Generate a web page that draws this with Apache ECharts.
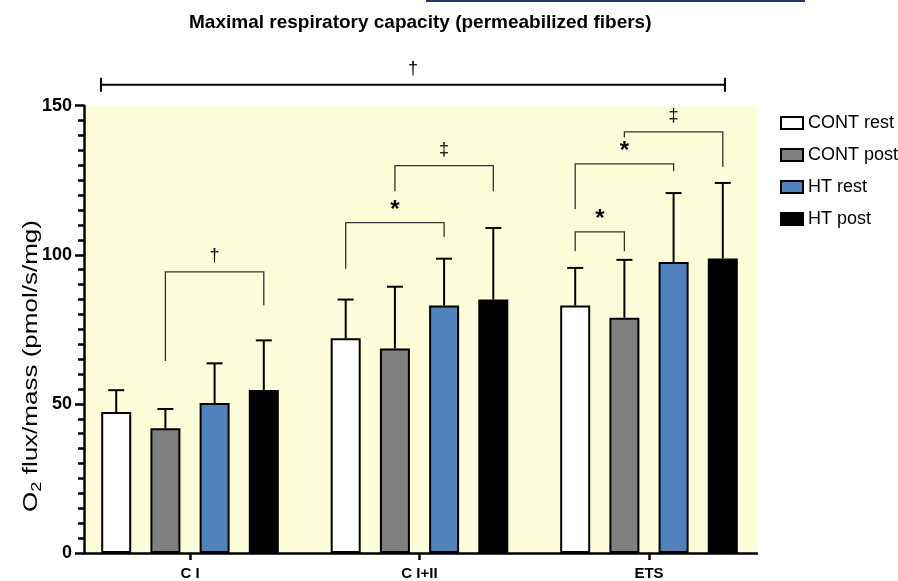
<!DOCTYPE html>
<html><head><meta charset="utf-8">
<script src="https://cdn.jsdelivr.net/npm/echarts@6/dist/echarts.min.js"></script>
<style>html,body{margin:0;padding:0;background:#fff}#c{width:898px;height:581px}</style>
</head><body><div id="c"></div>
<script>
const categories = ['C I', 'C I+II', 'ETS'];
const seriesNames = ['CONT rest', 'CONT post', 'HT rest', 'HT post'];
const contRest = [47.3, 72.0, 83.0];
const contRestErr = [54.6, 85.0, 95.6];
const contPost = [41.8, 68.6, 78.9];
const contPostErr = [48.3, 89.3, 98.3];
const htRest = [50.3, 83.0, 97.6];
const htRestErr = [63.6, 98.7, 120.7];
const htPost = [54.7, 85.0, 98.8];
const htPostErr = [71.3, 109.0, 124.1];
const yTicks = [0, 50, 100, 150];
// significance brackets: [category, fromBar, toBar, top, leftLegBottom, rightLegBottom]
const brackets = [
  [0, 1, 3, 94.3, 64.4, 83.1],
  [1, 0, 2, 110.8, 95.3, 106.0],
  [1, 1, 3, 129.9, 121.3, 121.3],
  [2, 0, 1, 107.7, 101.2, 101.2],
  [2, 0, 2, 130.5, 115.4, 128.0],
  [2, 1, 3, 141.2, 139.3, 129.5]
];
const bracketLabels = ['†', '*', '‡', '*', '*', '‡'];
// overall bracket: [xStart, xEnd, y]
const overall = [-0.388, 2.331, 157.0];
const overallLabel = '†';

const colors = ['#FFFFFF', '#808080', '#4F81BD', '#000000'];
const means = [contRest, contPost, htRest, htPost];
const errs = [contRestErr, contPostErr, htRestErr, htPostErr];
const BAR_W = 30, BAR_GAP = 0.64, PITCH = BAR_W * (1 + BAR_GAP);

const chart = echarts.init(document.getElementById('c'), null, {renderer: 'canvas'});

const barSeries = seriesNames.map((name, s) => ({
  name, type: 'bar', barWidth: BAR_W, barGap: (BAR_GAP * 100) + '%',
  data: categories.map((c, i) => [i, means[s][i]]),
  itemStyle: {color: colors[s], borderColor: '#000', borderWidth: 2},
  emphasis: {disabled: true}, z: 3
}));

const errData = [];
seriesNames.forEach((n, s) => categories.forEach((c, i) => errData.push([i, s, means[s][i], errs[s][i]])));

const errSeries = {
  type: 'custom', z: 4, silent: true, clip: false,
  encode: {x: 0, y: 3},
  data: errData,
  renderItem: (params, api) => {
    const off = (api.value(1) - 1.5) * PITCH;
    const p0 = api.coord([api.value(0), api.value(2)]);
    const p1 = api.coord([api.value(0), api.value(3)]);
    const x = p0[0] + off;
    return {type: 'group', children: [
      {type: 'line', shape: {x1: x, y1: p0[1], x2: x, y2: p1[1]}, style: {stroke: '#000', lineWidth: 2}},
      {type: 'line', shape: {x1: x - 8, y1: p1[1], x2: x + 8, y2: p1[1]}, style: {stroke: '#000', lineWidth: 2}}
    ]};
  }
};

const bracketSeries = {
  type: 'custom', z: 5, silent: true, clip: false,
  encode: {x: 0, y: 3},
  data: brackets,
  renderItem: (params, api) => {
    const c = api.value(0);
    const xl = api.coord([c, 0])[0] + (api.value(1) - 1.5) * PITCH;
    const xr = api.coord([c, 0])[0] + (api.value(2) - 1.5) * PITCH;
    const yt = api.coord([c, api.value(3)])[1];
    const yl = api.coord([c, api.value(4)])[1];
    const yr = api.coord([c, api.value(5)])[1];
    const lab = bracketLabels[params.dataIndex];
    const star = lab === '*';
    return {type: 'group', children: [
      {type: 'polyline', shape: {points: [[xl, yl], [xl, yt], [xr, yt], [xr, yr]]}, style: {stroke: '#333', lineWidth: 1.3, fill: null}},
      {type: 'text', x: (xl + xr) / 2, y: yt - (star ? 12 : 16), style: {text: lab, textAlign: 'center', textVerticalAlign: 'middle', fill: '#000', font: (star ? 'bold 24px' : '18px') + ' "Liberation Sans", Arial, sans-serif'}}
    ]};
  }
};

const overallSeries = {
  type: 'custom', z: 5, silent: true, clip: false,
  encode: {x: [0, 1], y: 2},
  data: [overall],
  renderItem: (params, api) => {
    const a = api.coord([api.value(0), api.value(2)]);
    const b = api.coord([api.value(1), api.value(2)]);
    return {type: 'group', children: [
      {type: 'line', shape: {x1: a[0], y1: a[1], x2: b[0], y2: b[1]}, style: {stroke: '#000', lineWidth: 2}},
      {type: 'line', shape: {x1: a[0], y1: a[1] - 7, x2: a[0], y2: a[1] + 7}, style: {stroke: '#000', lineWidth: 2}},
      {type: 'line', shape: {x1: b[0], y1: b[1] - 7, x2: b[0], y2: b[1] + 7}, style: {stroke: '#000', lineWidth: 2}},
      {type: 'text', x: (a[0] + b[0]) / 2, y: a[1] - 16, style: {text: overallLabel, textAlign: 'center', textVerticalAlign: 'middle', fill: '#000', font: '18px "Liberation Sans", Arial, sans-serif'}}
    ]};
  }
};

const font = '"Liberation Sans", Arial, sans-serif';
chart.setOption({
  animation: false,
  backgroundColor: '#fff',
  title: {text: 'Maximal respiratory capacity (permeabilized fibers)', left: 184, top: 8,
    textStyle: {fontFamily: font, fontSize: 19, fontWeight: 'bold', color: '#000'}},
  legend: {orient: 'vertical', left: 775, top: 109, itemWidth: 22, itemHeight: 12, itemGap: 14,
    icon: 'rect', data: seriesNames,
    textStyle: {fontFamily: font, fontSize: 18, color: '#000'}},
  grid: {left: 84, right: 141, top: 105.7, bottom: 27, show: true, backgroundColor: '#FEFDDA', borderWidth: 0},
  xAxis: {type: 'value', min: -0.4619, max: 2.4706,
    splitLine: {show: false},
    axisLine: {show: true, onZero: false, lineStyle: {color: '#000', width: 2.5}},
    axisTick: {show: true, customValues: [0, 1, 2], length: 7, lineStyle: {color: '#000', width: 2.5}},
    axisLabel: {customValues: [0, 1, 2], formatter: v => categories[Math.round(v)], margin: 13,
      fontFamily: font, fontSize: 15, fontWeight: 'bold', color: '#000'}},
  yAxis: {type: 'value', min: 0, max: 150, interval: 50,
    splitLine: {show: false},
    axisLine: {show: true, onZero: false, lineStyle: {color: '#000', width: 2.5}},
    axisTick: {show: true, length: 9, lineStyle: {color: '#000', width: 2.5}},
    minorTick: {show: true, splitNumber: 10, length: 6, lineStyle: {color: '#000', width: 2.5}},
    axisLabel: {margin: 12, fontFamily: font, fontSize: 18, fontWeight: 'bold', color: '#000',
      formatter: v => yTicks.includes(v) ? String(v) : ''}},
  graphic: [
    {type: 'rect', left: 426, top: 0, shape: {width: 379, height: 2}, style: {fill: '#1F3864'}},
    {type: 'text', x: 31, y: 366, rotation: Math.PI / 2, scaleX: 1.3,
      style: {text: '{a|O}{b|2}{a| flux/mass (pmol/s/mg)}', textAlign: 'center', textVerticalAlign: 'middle',
        rich: {a: {fontFamily: font, fontSize: 20, fill: '#000'}, b: {fontFamily: font, fontSize: 14, fill: '#000', padding: [12, 0, 0, 0]}}}}
  ],
  series: [...barSeries, errSeries, bracketSeries, overallSeries]
});
</script></body></html>
